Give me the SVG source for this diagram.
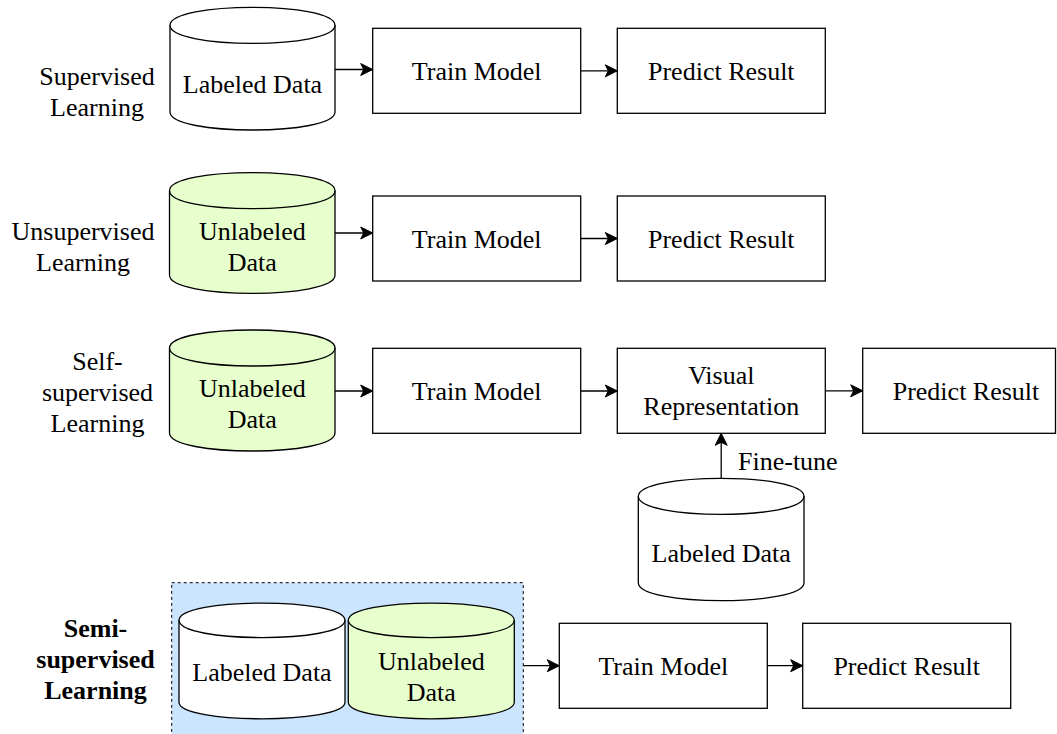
<svg xmlns="http://www.w3.org/2000/svg" width="1057" height="734" viewBox="0 0 1057 734">
<defs>
<style>
.s{fill:#fff;stroke:#000;stroke-width:1.3}
.g{fill:#e6ffcc;stroke:#000;stroke-width:1.3}
.e{fill:none;stroke:#000;stroke-width:1.3}
.t{font-family:"Liberation Serif","Times New Roman",serif;font-size:26px;fill:#000;text-anchor:middle}
.b{font-weight:bold}
.c{fill:none;stroke:#000;stroke-width:1.3}
</style>
<marker id="ah" markerUnits="userSpaceOnUse" markerWidth="14" markerHeight="14" viewBox="-13 -7 14 14" refX="0" refY="0" orient="auto">
<path d="M0,0 L-12,-6 L-9,0 L-12,6 Z" fill="#000" stroke="#000" stroke-width="1"/>
</marker>
</defs>
<rect width="1057" height="734" fill="#fff"/>

<!-- Row 1 -->
<g id="label-supervised">
<text class="t" x="97" y="85">Supervised</text>
<text class="t" x="97" y="116">Learning</text>
</g>
<g id="r1-labeled">
<path class="s" d="M170,25.3 C170,1.3 335,1.3 335,25.3 L335,112 C335,136 170,136 170,112 Z"/>
<path class="e" d="M170,25.3 C170,49.3 335,49.3 335,25.3"/>
<text class="t" x="252.5" y="92.7">Labeled Data</text>
</g>
<g id="r1-train">
<rect class="s" x="372.7" y="28.3" width="208" height="85"/>
<text class="t" x="476.7" y="80">Train Model</text>
</g>
<g id="r1-predict">
<rect class="s" x="617.3" y="28.3" width="208" height="85"/>
<text class="t" x="721.3" y="80">Predict Result</text>
</g>

<!-- Row 2 -->
<g id="label-unsupervised">
<text class="t" x="83" y="240">Unsupervised</text>
<text class="t" x="83" y="271">Learning</text>
</g>
<g id="r2-unlabeled">
<path class="g" d="M169.5,190.7 C169.5,166.7 335,166.7 335,190.7 L335,275.3 C335,299.3 169.5,299.3 169.5,275.3 Z"/>
<path class="e" d="M169.5,190.7 C169.5,214.7 335,214.7 335,190.7"/>
<text class="t" x="252.3" y="240">Unlabeled</text>
<text class="t" x="252.3" y="271">Data</text>
</g>
<g id="r2-train">
<rect class="s" x="372.7" y="196" width="208" height="85"/>
<text class="t" x="476.7" y="247.5">Train Model</text>
</g>
<g id="r2-predict">
<rect class="s" x="617.3" y="196" width="208" height="85"/>
<text class="t" x="721.3" y="247.5">Predict Result</text>
</g>

<!-- Row 3 -->
<g id="label-selfsupervised">
<text class="t" x="97.5" y="370">Self-</text>
<text class="t" x="97.5" y="401">supervised</text>
<text class="t" x="97.5" y="432">Learning</text>
</g>
<g id="r3-unlabeled">
<path class="g" d="M169.5,348 C169.5,324 335,324 335,348 L335,433 C335,457 169.5,457 169.5,433 Z"/>
<path class="e" d="M169.5,348 C169.5,372 335,372 335,348"/>
<text class="t" x="252.3" y="397.3">Unlabeled</text>
<text class="t" x="252.3" y="428.3">Data</text>
</g>
<g id="r3-train">
<rect class="s" x="372.7" y="348.3" width="208" height="85"/>
<text class="t" x="476.7" y="400">Train Model</text>
</g>
<g id="r3-visual">
<rect class="s" x="617.3" y="348.3" width="208" height="85"/>
<text class="t" x="721.3" y="383.8">Visual</text>
<text class="t" x="721.3" y="415">Representation</text>
</g>
<g id="r3-predict">
<rect class="s" x="862.7" y="348.3" width="192.8" height="85"/>
<text class="t" x="966" y="400">Predict Result</text>
</g>
<g id="r3-labeled">
<path class="s" d="M638.3,496.3 C638.3,472.3 804,472.3 804,496.3 L804,582.7 C804,606.7 638.3,606.7 638.3,582.7 Z"/>
<path class="e" d="M638.3,496.3 C638.3,520.3 804,520.3 804,496.3"/>
<text class="t" x="721.2" y="562">Labeled Data</text>
</g>

<!-- Row 4 -->
<g id="label-semisupervised">
<text class="t b" x="95.5" y="636.5">Semi-</text>
<text class="t b" x="95.5" y="667.7">supervised</text>
<text class="t b" x="95.5" y="698.9">Learning</text>
</g>
<g id="r4-group">
<rect x="171.7" y="582.7" width="351.6" height="155" fill="#cce5ff" stroke="#000" stroke-width="1" stroke-dasharray="3 3"/>
</g>
<g id="r4-labeled">
<path class="s" d="M179,620.3 C179,597.3 345,597.3 345,620.3 L345,702.3 C345,724.3 179,724.3 179,702.3 Z"/>
<path class="e" d="M179,620.3 C179,643.3 345,643.3 345,620.3"/>
<text class="t" x="262" y="681">Labeled Data</text>
</g>
<g id="r4-unlabeled">
<path class="g" d="M348.3,620.3 C348.3,597.3 514.3,597.3 514.3,620.3 L514.3,702.3 C514.3,724.3 348.3,724.3 348.3,702.3 Z"/>
<path class="e" d="M348.3,620.3 C348.3,643.3 514.3,643.3 514.3,620.3"/>
<text class="t" x="431.3" y="670">Unlabeled</text>
<text class="t" x="431.3" y="701">Data</text>
</g>
<g id="r4-train">
<rect class="s" x="559.3" y="623.3" width="208" height="85"/>
<text class="t" x="663.3" y="674.7">Train Model</text>
</g>
<g id="r4-predict">
<rect class="s" x="802.7" y="623.3" width="208" height="85"/>
<text class="t" x="906.7" y="674.7">Predict Result</text>
</g>

<g id="connectors">
<path class="c" d="M335,69.5 L372.7,69.5" marker-end="url(#ah)"/>
<path class="c" d="M580.7,70.8 L617.3,70.8" marker-end="url(#ah)"/>
<path class="c" d="M335,233 L372.7,233" marker-end="url(#ah)"/>
<path class="c" d="M580.7,238.5 L617.3,238.5" marker-end="url(#ah)"/>
<path class="c" d="M335,391 L372.7,391" marker-end="url(#ah)"/>
<path class="c" d="M580.7,391 L617.3,391" marker-end="url(#ah)"/>
<path class="c" d="M825.3,390.8 L862.7,390.8" marker-end="url(#ah)"/>
<path class="c" d="M721.2,478.3 L721.2,433.3" marker-end="url(#ah)"/>
<text class="t" x="738" y="470" style="text-anchor:start">Fine-tune</text>
<path class="c" d="M523.3,665.7 L559.3,665.7" marker-end="url(#ah)"/>
<path class="c" d="M767.3,665.7 L802.7,665.7" marker-end="url(#ah)"/>
</g>
</svg>
